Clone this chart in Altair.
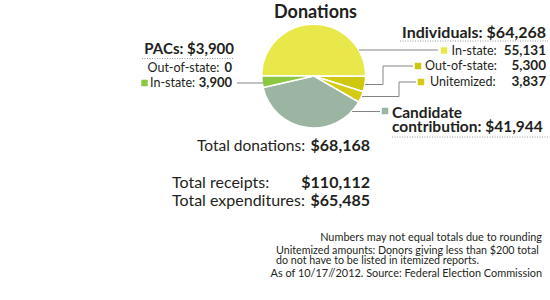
import math
import altair as alt
import pandas as pd

# ---- data ----
categories = ["In-state", "Out-of-state", "Unitemized", "Candidate contribution", "PACs in-state"]
amounts = [55131, 5300, 3837, 41944, 3900]
slice_colors = ["#e9e84b", "#cfc811", "#d3cb14", "#9bb5a2", "#8dc63f"]

pac_total = 3900
pac_out = 0
pac_in = 3900
ind_total = 64268
total_donations = 68168
total_receipts = 110112
total_expenditures = 65485

FONT = "Lato"
INK = "#231f20"
LINE = "#858585"

pie_df = pd.DataFrame({"cat": categories, "amount": amounts, "idx": list(range(len(categories)))})

pie = alt.Chart(pie_df).mark_arc(outerRadius=52, stroke="white", strokeWidth=1.6).encode(
    theta=alt.Theta("amount:Q", stack=True, scale=alt.Scale(range=[1.5 * math.pi, 3.5 * math.pi])),
    color=alt.Color("cat:N", scale=alt.Scale(domain=categories, range=slice_colors), legend=None),
    order=alt.Order("idx:Q"),
    x=alt.value(313.7),
    y=alt.value(76),
)

def fmt(v, dollar=False):
    s = f"{v:,}"
    return ("$" + s) if dollar else s

# text rows: text, x, y, size, weight, align, baseline, lineHeight
texts = [
    ("Donations", 315.5, 17.5, 18, "bold", "center", "alphabetic", 18),
    (f"PACs: {fmt(pac_total, True)}", 234, 49, 15, "bold", "right", "middle", 15),
    ("Out-of-state:", 219.5, 68, 12.5, "normal", "right", "middle", 12.5),
    (fmt(pac_out), 232, 68, 13, "bold", "right", "middle", 13),
    ("In-state:", 150, 83, 12.5, "normal", "left", "middle", 12.5),
    (fmt(pac_in), 232, 83, 13, "bold", "right", "middle", 13),
    (f"Individuals: {fmt(ind_total, True)}", 546, 32.5, 16, "bold", "right", "middle", 16),
    ("In-state:", 451.5, 50.5, 12.5, "normal", "left", "middle", 12.5),
    (fmt(amounts[0]), 546, 50.5, 13.5, "bold", "right", "middle", 13.5),
    ("Out-of-state:", 425, 66, 12.5, "normal", "left", "middle", 12.5),
    (fmt(amounts[1]), 546, 66, 13.5, "bold", "right", "middle", 13.5),
    ("Unitemized:", 430, 82, 12.5, "normal", "left", "middle", 12.5),
    (fmt(amounts[2]), 546, 82, 13.5, "bold", "right", "middle", 13.5),
    (f"Candidate\ncontribution: {fmt(amounts[3], True)}", 392, 113, 15.5, "bold", "left", "middle", 14),
    ("Total donations:", 197, 146, 15.5, "normal", "left", "middle", 15.5),
    (fmt(total_donations, True), 370, 146, 16, "bold", "right", "middle", 16),
    ("Total receipts:", 172, 183, 16, "normal", "left", "middle", 16),
    (fmt(total_receipts, True), 370, 183, 16, "bold", "right", "middle", 16),
    ("Total expenditures:", 172, 201, 16, "normal", "left", "middle", 16),
    (fmt(total_expenditures, True), 370, 201, 16, "bold", "right", "middle", 16),
    ("Numbers may not equal totals due to rounding", 542, 238, 10.9, "normal", "right", "middle", 10.9),
    ("Unitemized amounts: Donors giving less than $200 total\ndo not have to be listed in itemized reports.",
     276, 250.5, 10.7, "normal", "left", "middle", 10.7),
    ("As of 10/17//2012. Source: Federal Election Commission", 542, 274, 10.9, "normal", "right", "middle", 10.9),
]
tdf = pd.DataFrame(texts, columns=["text", "x", "y", "size", "weight", "align", "baseline", "lh"])

text_layers = []
for (size, weight, align, baseline, lh), g in tdf.groupby(["size", "weight", "align", "baseline", "lh"]):
    text_layers.append(
        alt.Chart(g).mark_text(font=FONT, fontSize=float(size), fontWeight=weight, align=align,
                               baseline=baseline, color=INK, lineBreak="\n",
                               lineHeight=float(lh)).encode(
            x=alt.X("x:Q", scale=None), y=alt.Y("y:Q", scale=None), text="text:N")
    )

# leader line segments
segs = [
    (237, 83, 263, 83),
    (359, 50, 438, 50),
    (365, 84.5, 383, 84.5), (383, 84.5, 383, 66), (383, 66, 413, 66),
    (362, 96.5, 399, 96.5), (399, 96.5, 399, 82), (399, 82, 416, 82),
    (352, 111.5, 380, 111.5),
]
sdf = pd.DataFrame(segs, columns=["x", "y", "x2", "y2"])
leaders = alt.Chart(sdf).mark_rule(color=LINE, strokeWidth=1).encode(
    x=alt.X("x:Q", scale=None), y=alt.Y("y:Q", scale=None), x2="x2:Q", y2="y2:Q")

# dotted separators
dots = [(142, 58.5, 234, 58.5), (400, 41, 548, 41), (392, 137, 548, 137)]
ddf = pd.DataFrame(dots, columns=["x", "y", "x2", "y2"])
dotted = alt.Chart(ddf).mark_rule(color="#9a9a9a", strokeWidth=1, strokeDash=[1, 1.5]).encode(
    x=alt.X("x:Q", scale=None), y=alt.Y("y:Q", scale=None), x2="x2:Q", y2="y2:Q")

# swatches
sw = pd.DataFrame({
    "cat": ["PACs in-state", "In-state", "Out-of-state", "Unitemized", "Candidate contribution"],
    "x": [144.5, 444, 418, 421, 385],
    "y": [83, 50.5, 66, 82, 111],
})
swatches = alt.Chart(sw).mark_square(size=42, opacity=1).encode(
    x=alt.X("x:Q", scale=None), y=alt.Y("y:Q", scale=None),
    color=alt.Color("cat:N", scale=alt.Scale(domain=categories, range=slice_colors), legend=None))

chart = alt.layer(pie, leaders, dotted, swatches, *text_layers).properties(
    width=550, height=300, padding=0, autosize=alt.AutoSizeParams(type="none"), background="white"
).configure_view(stroke=None)

chart.save("out.html", embed_options={"renderer": "svg", "actions": False})
